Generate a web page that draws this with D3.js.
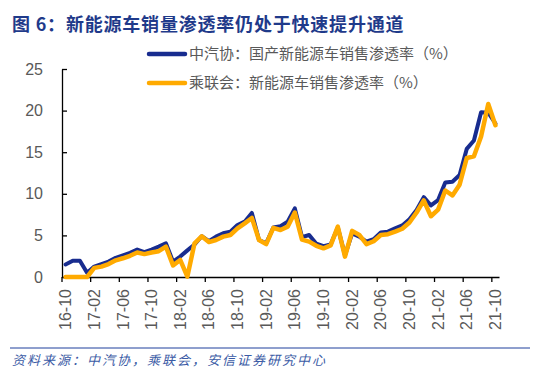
<!DOCTYPE html>
<html>
<head>
<meta charset="utf-8">
<script src="https://cdn.jsdelivr.net/npm/d3@7"></script>
<style>
  body { margin: 0; background: #fff; }
  svg text { font-family: "Liberation Sans", Arial, sans-serif; }
  .cjk { font-family: "Noto Sans CJK SC", sans-serif; }
</style>
</head>
<body>
<div id="chart"></div>
<script>
// months 16-10 .. 21-10
var months = [];
for (var yy = 16; yy <= 21; yy++) {
  for (var mm = 1; mm <= 12; mm++) {
    if ((yy == 16 && mm < 10) || (yy == 21 && mm > 10)) continue;
    months.push(yy + "-" + (mm < 10 ? "0" + mm : mm));
  }
}
var tickMonths = ["16-10","17-02","17-06","17-10","18-02","18-06","18-10","19-02","19-06","19-10","20-02","20-06","20-10","21-02","21-06","21-10"];
var yTicks = [0, 5, 10, 15, 20, 25];

// 中汽协：国产新能源车销售渗透率
var caamData = [1.5,1.95,1.95,0.5,1.25,1.55,1.85,2.3,2.6,2.9,3.3,3.0,3.3,3.65,4.05,1.85,2.45,3.2,3.9,4.9,
  4.3,4.85,5.25,5.45,6.25,6.65,7.7,4.45,4.05,5.95,6.1,6.65,8.25,4.8,5.05,4.0,3.7,3.9,5.95,2.6,
  5.25,4.85,4.25,4.55,5.35,5.45,5.85,6.2,6.95,8.05,9.6,8.6,9.25,11.35,11.45,12.25,15.4,16.4,19.8,19.75,18.45];
// 乘联会：新能源车销售渗透率
var cpcaData = [0,0,0,0,1.1,1.25,1.55,2.0,2.25,2.55,2.95,2.75,2.95,3.1,3.65,1.4,2.05,0.05,4.05,4.9,
  4.2,4.45,4.85,5.05,5.85,6.45,7.1,4.45,3.95,5.9,5.65,6.05,7.75,4.5,4.25,3.75,3.45,3.8,6.05,2.45,
  5.55,5.05,3.95,4.3,5.05,5.15,5.45,5.8,6.55,7.75,9.2,7.3,8.1,10.4,9.8,11.1,14.3,14.5,16.9,20.8,18.25];

var seriesNames = ["中汽协：国产新能源车销售渗透率（%）", "乘联会：新能源车销售渗透率（%）"];
var colors = ["#182c8f", "#ffaa00"];

var svg = d3.select("#chart").append("svg")
  .attr("width", 550).attr("height", 386);

// title
svg.append("text").attr("class", "cjk")
  .attr("x", 12).attr("y", 31)
  .attr("fill", "#1f3a8a").style("font-size", "18px").style("font-weight", "bold")
  .style("letter-spacing", "0.8px")
  .text("图 6：新能源车销量渗透率仍处于快速提升通道");

var x = d3.scaleBand().domain(months).range([62, 499]).padding(0);
var y = d3.scaleLinear().domain([0, 25]).range([277, 69]);
var bw = x.bandwidth();

// x axis
var xa = svg.append("g")
  .attr("transform", "translate(0,277)")
  .call(d3.axisBottom(x).tickValues(tickMonths).tickSizeInner(5).tickSizeOuter(0));
xa.select(".domain").attr("stroke", "#000").attr("stroke-width", 1.3);
xa.selectAll(".tick line").attr("x1", -bw / 2).attr("x2", -bw / 2).attr("stroke", "#000").attr("stroke-width", 1.3);
xa.selectAll(".tick text")
  .attr("transform", "rotate(-90)")
  .attr("x", -12).attr("y", 0).attr("dy", "0.35em")
  .style("text-anchor", "end")
  .style("font-size", "16px").attr("fill", "#595959");

// y axis
var ya = svg.append("g")
  .attr("transform", "translate(62,0)")
  .call(d3.axisLeft(y).tickValues(yTicks).tickSizeInner(-5).tickSizeOuter(0).tickPadding(19));
ya.select(".domain").attr("stroke", "#000").attr("stroke-width", 1.3);
ya.selectAll(".tick line").attr("stroke", "#000").attr("stroke-width", 1.3);
ya.selectAll(".tick text").style("font-size", "16px").attr("fill", "#595959");

// lines
var line = d3.line()
  .x(function (d, i) { return x(months[i]) + bw / 2; })
  .y(function (d) { return y(d); });

[caamData, cpcaData].forEach(function (data, k) {
  svg.append("path")
    .datum(data)
    .attr("fill", "none")
    .attr("stroke", colors[k])
    .attr("stroke-width", k == 0 ? 4 : 4.5)
    .attr("stroke-linejoin", "round")
    .attr("stroke-linecap", "round")
    .attr("d", line);
});

// legend
var legend = svg.append("g");
seriesNames.forEach(function (name, k) {
  var ly = 54 + k * 29;
  legend.append("line")
    .attr("x1", 149).attr("x2", 185).attr("y1", ly).attr("y2", ly)
    .attr("stroke", colors[k]).attr("stroke-width", 4.5).attr("stroke-linecap", "round");
  legend.append("text").attr("class", "cjk")
    .attr("x", 189).attr("y", ly).attr("dy", "0.35em")
    .style("font-size", "15px").attr("fill", "#595959")
    .text(name);
});

// source
svg.append("line")
  .attr("x1", 10).attr("x2", 530).attr("y1", 348).attr("y2", 348)
  .attr("stroke", "#1f3f9c").attr("stroke-width", 1);
svg.append("text").attr("class", "cjk")
  .attr("x", 12).attr("y", 365)
  .style("font-size", "13px").style("font-style", "italic").style("letter-spacing", "2px")
  .attr("fill", "#3b5ba5")
  .text("资料来源：中汽协，乘联会，安信证券研究中心");
</script>
</body>
</html>
